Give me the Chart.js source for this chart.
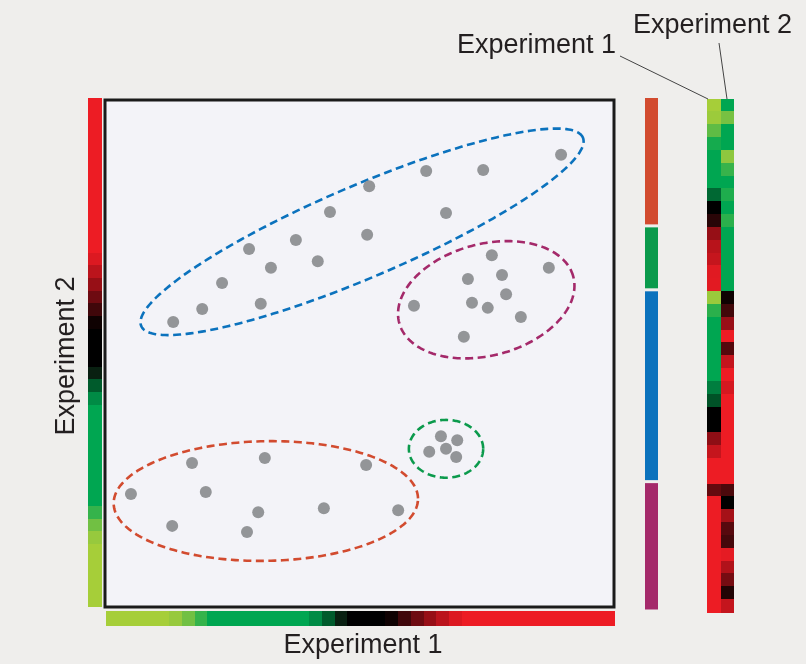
<!DOCTYPE html>
<html>
<head>
<meta charset="utf-8">
<script src="https://cdn.jsdelivr.net/npm/chart.js@4.4.1/dist/chart.umd.min.js"></script>
<style>
  html, body { margin: 0; padding: 0; background: #efeeec; }
  canvas { display: block; }
</style>
</head>
<body>
<canvas id="c" width="806" height="664"></canvas>
<script>
// Expression of each gene in two experiments (0-100 scale), grouped into four clusters.
const clusterNames = ['Cluster 1', 'Cluster 2', 'Cluster 3', 'Cluster 4'];
const clusterColors = ['#d24b2f', '#0b9a4c', '#0b72bd', '#a4296a'];

const cluster1Exp1 = [5.1, 17.1, 31.4, 51.3, 19.8, 13.2, 30.1, 27.9, 43.0, 57.6];
const cluster1Exp2 = [22.3, 28.4, 29.4, 28.0, 22.7, 16.0, 18.7, 14.8, 19.5, 19.1];

const cluster2Exp1 = [66.0, 69.2, 63.7, 67.0, 69.0];
const cluster2Exp2 = [33.7, 32.9, 30.6, 31.2, 29.6];

const cluster3Exp1 = [13.4, 19.1, 23.0, 28.3, 32.6, 30.6, 37.5, 41.8, 44.2, 51.9, 63.1, 74.3, 89.6, 67.0, 51.5];
const cluster3Exp2 = [56.2, 58.8, 63.9, 70.6, 66.9, 59.8, 72.4, 68.2, 77.9, 83.0, 86.0, 86.2, 89.2, 77.7, 73.4];

const cluster4Exp1 = [76.0, 87.2, 71.3, 78.0, 78.8, 72.1, 75.2, 60.7, 81.7, 70.5];
const cluster4Exp2 = [69.4, 66.9, 64.7, 65.5, 61.7, 60.0, 59.0, 59.4, 57.2, 53.3];

// Outline of each cluster in data units: centre, semi-axes, tilt (degrees)
const outlineCx = [31.6, 67.0, 50.5, 74.9];
const outlineCy = [20.9, 31.2, 74.0, 60.6];
const outlineA = [29.9, 7.3, 47.2, 17.7];
const outlineB = [11.8, 5.7, 9.05, 11.0];
const outlineTilt = [1, 0, 23.2, 15];

const axisTitles = ['Experiment 1', 'Experiment 2'];

// Green - black - red expression colour scale
const scaleStops = [0, 0.12, 0.15, 0.18, 0.205, 0.40, 0.42, 0.445, 0.465, 0.48, 0.555, 0.59, 0.625, 0.66, 0.70, 1];
const scaleColors = ['#a6ce39', '#a6ce39', '#8cc63f', '#4cb848', '#00a651', '#00a651', '#007a3d', '#004d24',
  '#0a1a0e', '#000000', '#000000', '#45080b', '#850d14', '#b8131b', '#ed1c24', '#ed1c24'];

const xs = [cluster1Exp1, cluster2Exp1, cluster3Exp1, cluster4Exp1];
const ys = [cluster1Exp2, cluster2Exp2, cluster3Exp2, cluster4Exp2];

function hexRgb(h) {
  return [parseInt(h.slice(1, 3), 16), parseInt(h.slice(3, 5), 16), parseInt(h.slice(5, 7), 16)];
}
function colorAt(f) {
  f = Math.max(0, Math.min(1, f));
  for (let i = 1; i < scaleStops.length; i++) {
    if (f <= scaleStops[i]) {
      const t = (f - scaleStops[i - 1]) / ((scaleStops[i] - scaleStops[i - 1]) || 1);
      const a = hexRgb(scaleColors[i - 1]), b = hexRgb(scaleColors[i]);
      const c = a.map((v, k) => Math.round(v + (b[k] - v) * t));
      return 'rgb(' + c.join(',') + ')';
    }
  }
  return scaleColors[scaleColors.length - 1];
}

const datasets = clusterNames.map((name, i) => ({
  label: name,
  data: xs[i].map((x, j) => ({ x: x, y: ys[i][j] })),
  backgroundColor: '#939598',
  borderWidth: 0,
  pointRadius: 6,
  pointHoverRadius: 6
}));

const decorations = {
  id: 'decorations',
  beforeDraw(chart) {
    const ctx = chart.ctx;
    ctx.save();
    ctx.fillStyle = '#efeeec';
    ctx.fillRect(0, 0, chart.width, chart.height);
    const a = chart.chartArea;
    ctx.fillStyle = '#f3f3f8';
    ctx.fillRect(a.left, a.top, a.right - a.left, a.bottom - a.top);
    ctx.restore();
  },
  beforeDatasetsDraw(chart) {
    const ctx = chart.ctx;
    const sx = chart.scales.x, sy = chart.scales.y;
    ctx.save();
    ctx.lineWidth = 2.6;
    ctx.setLineDash([8, 4.5]);
    for (let i = 0; i < clusterNames.length; i++) {
      const th = outlineTilt[i] * Math.PI / 180;
      ctx.beginPath();
      for (let k = 0; k <= 240; k++) {
        const t = k / 240 * Math.PI * 2;
        const u = outlineA[i] * Math.cos(t), v = outlineB[i] * Math.sin(t);
        const dx = outlineCx[i] + u * Math.cos(th) - v * Math.sin(th);
        const dy = outlineCy[i] + u * Math.sin(th) + v * Math.cos(th);
        const px = sx.getPixelForValue(dx), py = sy.getPixelForValue(dy);
        if (k === 0) ctx.moveTo(px, py); else ctx.lineTo(px, py);
      }
      ctx.closePath();
      ctx.strokeStyle = clusterColors[i];
      ctx.stroke();
    }
    ctx.restore();
  },
  afterDraw(chart) {
    const ctx = chart.ctx;
    const a = chart.chartArea;
    const sx = chart.scales.x, sy = chart.scales.y;
    ctx.save();

    // frame
    ctx.strokeStyle = '#1a1a1a';
    ctx.lineWidth = 3;
    ctx.strokeRect(a.left, a.top, a.right - a.left, a.bottom - a.top);

    // colour scales along both axes
    const steps = 40;
    for (let s = 0; s < steps; s++) {
      const v0 = s * 100 / steps, v1 = (s + 1) * 100 / steps;
      ctx.fillStyle = colorAt((s + 0.5) / steps);
      const x0 = sx.getPixelForValue(v0) + 1, x1 = sx.getPixelForValue(v1) + 1;
      ctx.fillRect(Math.floor(x0), 611, Math.ceil(x1) - Math.floor(x0), 15);
      const y0 = sy.getPixelForValue(v0), y1 = sy.getPixelForValue(v1) - 2;
      ctx.fillRect(88, Math.floor(y1), 14, Math.ceil(y0) - Math.floor(y1));
    }

    // cluster membership bar and heatmap, genes ordered by cluster then Experiment 1
    const rows = [];
    xs.forEach((arr, i) => {
      const idx = arr.map((_, j) => j).sort((p, q) => arr[p] - arr[q]);
      idx.forEach(j => rows.push({ c: i, x: arr[j], y: ys[i][j] }));
    });
    const hTop = 99, hBottom = 612.5;
    const rowH = (hBottom - hTop) / rows.length;
    rows.forEach((r, k) => {
      const y = hTop + k * rowH;
      ctx.fillStyle = colorAt(r.x / 100);
      ctx.fillRect(707, Math.floor(y), 14, Math.ceil(y + rowH) - Math.floor(y));
      ctx.fillStyle = colorAt(r.y / 100);
      ctx.fillRect(721, Math.floor(y), 13, Math.ceil(y + rowH) - Math.floor(y));
    });
    const bTop = 98, bBottom = 609.5;
    const bH = (bBottom - bTop) / rows.length;
    let start = 0;
    for (let i = 0; i < clusterNames.length; i++) {
      const n = xs[i].length;
      const y0 = bTop + start * bH + (i > 0 ? 1.5 : 0);
      const y1 = bTop + (start + n) * bH - (i < clusterNames.length - 1 ? 1.5 : 0);
      ctx.fillStyle = clusterColors[i];
      ctx.fillRect(645, y0, 13, y1 - y0);
      start += n;
    }

    // titles
    ctx.fillStyle = '#231f20';
    ctx.font = "27px 'Liberation Sans', Arial, sans-serif";
    ctx.textBaseline = 'alphabetic';
    ctx.textAlign = 'center';
    ctx.fillText(axisTitles[0], 363, 653);
    ctx.save();
    ctx.translate(74, 356);
    ctx.rotate(-Math.PI / 2);
    ctx.fillText(axisTitles[1], 0, 0);
    ctx.restore();
    ctx.textAlign = 'left';
    ctx.fillText(axisTitles[0], 457, 53);
    ctx.fillText(axisTitles[1], 633, 33);

    // leader lines to heatmap columns
    ctx.strokeStyle = '#444';
    ctx.lineWidth = 1;
    ctx.beginPath();
    ctx.moveTo(620, 56); ctx.lineTo(708, 99);
    ctx.moveTo(719, 43); ctx.lineTo(727, 99);
    ctx.stroke();
    ctx.restore();
  }
};

new Chart(document.getElementById('c'), {
  type: 'scatter',
  data: { datasets: datasets },
  options: {
    responsive: false,
    devicePixelRatio: 1,
    animation: false,
    layout: { padding: { left: 105, right: 192, top: 100, bottom: 57 } },
    scales: {
      x: { type: 'linear', min: 0, max: 100, display: false },
      y: { type: 'linear', min: 0, max: 100, display: false }
    },
    plugins: { legend: { display: false }, tooltip: { enabled: false } }
  },
  plugins: [decorations]
});
</script>
</body>
</html>
